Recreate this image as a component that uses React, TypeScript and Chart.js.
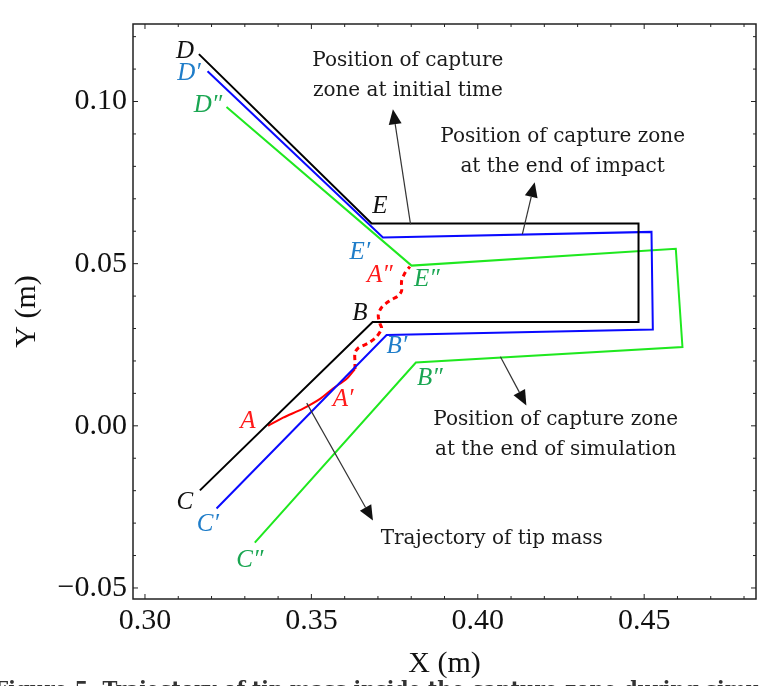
import React, { useEffect, useRef } from "react";
import { Chart, registerables } from "chart.js";

Chart.register(...registerables);

// ---- axis ticks ----
const xTicks = [0.3, 0.35, 0.4, 0.45];
const yTicks = [-0.05, 0.0, 0.05, 0.1];

// ---- capture zone at initial time (D-E-...-B-C) ----
const initialX = [0.3162, 0.3681, 0.4483, 0.4483, 0.3684, 0.3165];
const initialY = [0.1146, 0.0624, 0.0624, 0.032, 0.032, -0.0199];

// ---- capture zone at the end of impact (D'-E'-...-B'-C') ----
const impactX = [0.3188, 0.3715, 0.4522, 0.4526, 0.3726, 0.3215];
const impactY = [0.1093, 0.0581, 0.0598, 0.0297, 0.028, -0.0255];

// ---- capture zone at the end of simulation (D''-E''-...-B''-C'') ----
const finalX = [0.3245, 0.3801, 0.4595, 0.4615, 0.3814, 0.333];
const finalY = [0.0983, 0.0494, 0.0546, 0.0243, 0.0195, -0.036];

// ---- trajectory of tip mass: A -> A' (solid) ----
const tipSolidX = [0.337, 0.3415, 0.3475, 0.3526, 0.3565, 0.3606, 0.3631];
const tipSolidY = [0.0, 0.0025, 0.0053, 0.0083, 0.0115, 0.0145, 0.0175];

// ---- trajectory of tip mass: A' -> A'' (dotted) ----
const tipDotX = [0.3631, 0.3631, 0.3631, 0.3641, 0.3671, 0.3696, 0.3711, 0.3706, 0.3701, 0.3711, 0.3736, 0.3761, 0.3771, 0.3771, 0.3781, 0.3796];
const tipDotY = [0.0175, 0.0195, 0.0225, 0.024, 0.0255, 0.0275, 0.03, 0.0315, 0.0341, 0.0365, 0.0386, 0.0401, 0.0416, 0.0446, 0.0471, 0.0491];

// ---- point labels ----
const labelText = ["D", "D\u2032", "D\u2033", "E", "E\u2032", "A\u2033", "E\u2033", "B", "B\u2032", "B\u2033", "A", "A\u2032", "C", "C\u2032", "C\u2033"];
const labelX = [0.312, 0.3132, 0.3189, 0.3706, 0.3646, 0.3706, 0.3847, 0.3646, 0.3757, 0.3856, 0.3309, 0.3595, 0.312, 0.3189, 0.3315];
const labelY = [0.1154, 0.1087, 0.0987, 0.0678, 0.0536, 0.0465, 0.045, 0.0347, 0.0245, 0.0146, 0.0014, 0.008, -0.0235, -0.0304, -0.0415];
const labelGroup = ["k", "b", "g", "k", "b", "r", "g", "k", "b", "g", "r", "r", "k", "b", "g"];

// ---- annotations ----
const noteLines = [
  ["Position of capture", "zone at initial time"],
  ["Position of capture zone", "at the end of impact"],
  ["Position of capture zone", "at the end of simulation"],
  ["Trajectory of tip mass"],
];
const noteX = [0.379, 0.4255, 0.4234, 0.4042];
const noteY = [0.1079, 0.0846, -0.0029, -0.0347];

const arrowFromX = [0.3798, 0.4134, 0.4068, 0.3486];
const arrowFromY = [0.0621, 0.0591, 0.0213, 0.007];
const arrowToX = [0.3745, 0.4171, 0.4146, 0.3685];
const arrowToY = [0.0976, 0.0751, 0.0063, -0.0292];

const caption = "Figure 5. Trajectory of tip mass inside the capture zone during simulation";

const toPts = (xs: number[], ys: number[]) => xs.map((x, i) => ({ x, y: ys[i] }));

const groupColor: Record<string, string> = {
  k: "#111111",
  b: "#1f7dc9",
  g: "#1aa652",
  r: "#ff1a1a",
};

const overlayPlugin = {
  id: "overlay",
  beforeDraw(chart: any) {
    const { ctx, width, height } = chart;
    ctx.save();
    ctx.fillStyle = "#ffffff";
    ctx.fillRect(0, 0, width, height);
    ctx.restore();
  },
  afterDraw(chart: any) {
    const { ctx, chartArea: ca, scales } = chart;
    const xs = scales.x;
    const ys = scales.y;
    ctx.save();
    // frame
    ctx.strokeStyle = "#222";
    ctx.lineWidth = 1.5;
    ctx.strokeRect(ca.left, ca.top, ca.right - ca.left, ca.bottom - ca.top);
    // inward ticks every 0.01
    ctx.lineWidth = 1;
    for (let i = 30; i <= 48; i++) {
      const v = i / 100;
      const px = xs.getPixelForValue(v);
      if (px < ca.left || px > ca.right) continue;
      const len = i % 5 === 0 ? 5 : 3;
      ctx.beginPath();
      ctx.moveTo(px, ca.bottom);
      ctx.lineTo(px, ca.bottom - len);
      ctx.moveTo(px, ca.top);
      ctx.lineTo(px, ca.top + len);
      ctx.stroke();
    }
    for (let i = -5; i <= 12; i++) {
      const v = i / 100;
      const py = ys.getPixelForValue(v);
      if (py < ca.top || py > ca.bottom) continue;
      const len = i % 5 === 0 ? 5 : 3;
      ctx.beginPath();
      ctx.moveTo(ca.left, py);
      ctx.lineTo(ca.left + len, py);
      ctx.moveTo(ca.right, py);
      ctx.lineTo(ca.right - len, py);
      ctx.stroke();
    }

    // point labels
    ctx.textAlign = "center";
    ctx.textBaseline = "middle";
    ctx.font = "italic 25px 'Liberation Serif', serif";
    labelText.forEach((t, i) => {
      ctx.fillStyle = groupColor[labelGroup[i]];
      ctx.fillText(t, xs.getPixelForValue(labelX[i]), ys.getPixelForValue(labelY[i]));
    });

    // arrows
    ctx.strokeStyle = "#333";
    ctx.fillStyle = "#111";
    ctx.lineWidth = 1.2;
    arrowFromX.forEach((_, i) => {
      const x1 = xs.getPixelForValue(arrowFromX[i]);
      const y1 = ys.getPixelForValue(arrowFromY[i]);
      const x2 = xs.getPixelForValue(arrowToX[i]);
      const y2 = ys.getPixelForValue(arrowToY[i]);
      const ang = Math.atan2(y2 - y1, x2 - x1);
      const hl = 15;
      const hw = 6.5;
      const bx = x2 - hl * Math.cos(ang);
      const by = y2 - hl * Math.sin(ang);
      ctx.beginPath();
      ctx.moveTo(x1, y1);
      ctx.lineTo(bx, by);
      ctx.stroke();
      ctx.beginPath();
      ctx.moveTo(x2, y2);
      ctx.lineTo(bx + hw * Math.sin(ang), by - hw * Math.cos(ang));
      ctx.lineTo(bx - hw * Math.sin(ang), by + hw * Math.cos(ang));
      ctx.closePath();
      ctx.fill();
    });

    // notes
    ctx.fillStyle = "#1a1a1a";
    ctx.font = "20px 'DejaVu Serif', serif";
    ctx.textAlign = "center";
    ctx.textBaseline = "middle";
    const lh = 30;
    noteLines.forEach((lines, i) => {
      const cx = xs.getPixelForValue(noteX[i]);
      const cy = ys.getPixelForValue(noteY[i]);
      const y0 = cy - ((lines.length - 1) * lh) / 2;
      lines.forEach((ln, j) => ctx.fillText(ln, cx, y0 + j * lh));
    });

    // cropped caption at very bottom
    ctx.fillStyle = "#333";
    ctx.font = "bold 20px 'DejaVu Serif', serif";
    ctx.textAlign = "left";
    ctx.textBaseline = "top";
    ctx.fillText(caption, -6, 681);
    ctx.restore();
  },
};

export default function App() {
  const ref = useRef<HTMLCanvasElement | null>(null);

  useEffect(() => {
    if (!ref.current) return;
    const tickFont = { family: "'Liberation Serif', serif", size: 30 };
    const chart = new Chart(ref.current, {
      type: "scatter",
      data: {
        datasets: [
          {
            label: "Initial",
            data: toPts(initialX, initialY),
            showLine: true,
            borderColor: "#000000",
            borderWidth: 2,
            pointRadius: 0,
            fill: false,
          },
          {
            label: "End of impact",
            data: toPts(impactX, impactY),
            showLine: true,
            borderColor: "#0a0aff",
            borderWidth: 2,
            pointRadius: 0,
            fill: false,
          },
          {
            label: "End of simulation",
            data: toPts(finalX, finalY),
            showLine: true,
            borderColor: "#1fe81f",
            borderWidth: 2,
            pointRadius: 0,
            fill: false,
          },
          {
            label: "Tip A-A'",
            data: toPts(tipSolidX, tipSolidY),
            showLine: true,
            borderColor: "#ff0000",
            borderWidth: 2,
            pointRadius: 0,
            fill: false,
            tension: 0.3,
          },
          {
            label: "Tip A'-A''",
            data: toPts(tipDotX, tipDotY),
            showLine: true,
            borderColor: "#ff0000",
            borderWidth: 3,
            borderDash: [5, 4],
            pointRadius: 0,
            fill: false,
            tension: 0.3,
          },
        ],
      },
      options: {
        animation: false,
        responsive: false,
        maintainAspectRatio: false,
        devicePixelRatio: 1,
        layout: { padding: { top: 8, right: 4, left: 0, bottom: 0 } },
        plugins: {
          legend: { display: false },
          tooltip: { enabled: false },
        },
        scales: {
          x: {
            type: "linear",
            position: "bottom",
            min: 0.2964,
            max: 0.4836,
            grid: { display: false, drawTicks: false },
            border: { display: false },
            afterBuildTicks: (s: any) => {
              s.ticks = xTicks.map((v) => ({ value: v }));
            },
            afterFit: (s: any) => {
              s.height = 87;
            },
            ticks: {
              padding: 4,
              color: "#111",
              font: tickFont,
              maxRotation: 0,
              autoSkip: false,
              callback: (v: any) => Number(v).toFixed(2),
            },
            title: {
              display: true,
              text: "X (m)",
              color: "#111",
              font: tickFont,
              padding: { top: 0, bottom: 4 },
            },
          },
          y: {
            type: "linear",
            position: "left",
            min: -0.0534,
            max: 0.1239,
            grid: { display: false, drawTicks: false },
            border: { display: false },
            afterBuildTicks: (s: any) => {
              s.ticks = yTicks.map((v) => ({ value: v }));
            },
            afterFit: (s: any) => {
              s.width = 133;
            },
            ticks: {
              padding: 6,
              color: "#111",
              font: tickFont,
              autoSkip: false,
              callback: (v: any) => {
                const n = Number(v);
                return n < 0 ? "\u2212" + Math.abs(n).toFixed(2) : n.toFixed(2);
              },
            },
            title: {
              display: true,
              text: "Y (m)",
              color: "#111",
              font: tickFont,
              padding: { top: 9, bottom: 0 },
            },
          },
        },
      },
      plugins: [overlayPlugin],
    } as any);
    return () => chart.destroy();
  }, []);

  return (
    <div style={{ position: "absolute", left: 0, top: 0, width: 760, height: 686, background: "#fff" }}>
      <canvas ref={ref} width={760} height={686} style={{ width: 760, height: 686, display: "block" }} />
    </div>
  );
}
